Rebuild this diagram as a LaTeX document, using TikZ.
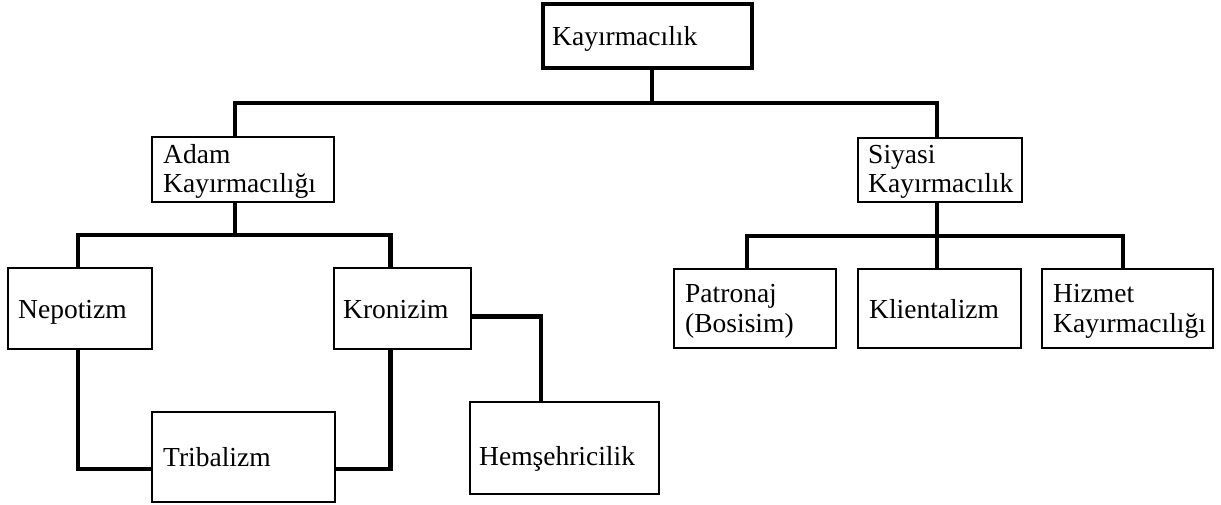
\documentclass[tikz,border=0pt]{standalone}
\usepackage{fontspec}
\setmainfont{Liberation Serif}
\begin{document}
\begin{tikzpicture}[x=1pt,y=-1pt,
  box/.style={draw, rectangle, inner sep=0pt, line width=1.4pt},
  midbox/.style={box, line width=2.6pt},
  topbox/.style={box, line width=3.4pt},
  conn/.style={line width=4.5pt},
  lbl/.style={anchor=base west, inner sep=0pt, font=\fontsize{27.5}{30}\selectfont}]
\useasboundingbox (0,0) rectangle (1221,504);

% boxes
\node[topbox, minimum width=209pt, minimum height=64pt] (top) at (647.5,36) {};
\node[midbox, minimum width=182pt, minimum height=65pt] (adam) at (243,169.5) {};
\node[midbox, minimum width=164pt, minimum height=64pt] (siy) at (940,170) {};
\node[box, minimum width=144pt, minimum height=81pt] (nep) at (80,308.5) {};
\node[box, minimum width=137pt, minimum height=81pt] (kro) at (402.5,308.5) {};
\node[box, minimum width=183pt, minimum height=90pt] (tri) at (243.5,457) {};
\node[box, minimum width=189pt, minimum height=92pt] (hem) at (564.5,448) {};
\node[box, minimum width=162pt, minimum height=79pt] (pat) at (755,308.5) {};
\node[box, minimum width=163pt, minimum height=79pt] (kli) at (939.5,308.5) {};
\node[box, minimum width=171pt, minimum height=79pt] (hiz) at (1127.5,308.5) {};

% labels
\node[lbl] (topT) at (552,45) {Kayırmacılık};
\node[lbl] (adamT1) at (163,163) {Adam};
\node[lbl] (adamT2) at (163,192) {Kayırmacılığı};
\node[lbl] (siyT1) at (868,163) {Siyasi};
\node[lbl] (siyT2) at (868,192) {Kayırmacılık};
\node[lbl] (nepT) at (18,318) {Nepotizm};
\node[lbl] (kroT) at (343,318) {Kronizim};
\node[lbl] (triT) at (163,466) {Tribalizm};
\node[lbl] (hemT) at (479,465) {Hemşehricilik};
\node[lbl] (patT1) at (685,302) {Patronaj};
\node[lbl] (patT2) at (685,332) {(Bosisim)};
\node[lbl] (kliT) at (869,318) {Klientalizm};
\node[lbl] (hizT1) at (1053,302) {Hizmet};
\node[lbl] (hizT2) at (1053,332) {Kayırmacılığı};

% stem points and bus levels
\coordinate (bus1) at (0,103);
\coordinate (bus2) at (0,235);
\coordinate (bus3) at (0,236);
\coordinate (tS) at ([xshift=4.5pt]top.south);
\coordinate (aN) at ([xshift=-8pt]adam.north);
\coordinate (aS) at ([xshift=-8pt]adam.south);
\coordinate (sN) at ([xshift=-3pt]siy.north);
\coordinate (sS) at ([xshift=-3pt]siy.south);
\coordinate (nN) at ([xshift=-2pt]nep.north);
\coordinate (nS) at ([xshift=-2pt]nep.south);
\coordinate (kN) at ([xshift=-12pt]kro.north);
\coordinate (kS) at ([xshift=-12pt]kro.south);
\coordinate (kE) at ([yshift=-8pt]kro.east);
\coordinate (tW) at ([yshift=-12pt]tri.west);
\coordinate (tE) at ([yshift=-12pt]tri.east);
\coordinate (hN) at ([xshift=-23.5pt]hem.north);
\coordinate (pN) at ([xshift=-8pt]pat.north);
\coordinate (cN) at ([xshift=-2.5pt]kli.north);
\coordinate (zN) at ([xshift=-4.5pt]hiz.north);

% connectors
\draw[conn] (tS) -- (tS |- bus1);
\draw[conn] (aN) |- (sN |- bus1) -- (sN);
\draw[conn] (aS) -- (aS |- bus2);
\draw[conn] (nN) |- (kN |- bus2) -- (kN);
\draw[conn] (nS) |- (tW);
\draw[conn] (kS) |- (tE);
\draw[conn] (kE) -| (hN);
\draw[conn] (sS) -- (sS |- bus3);
\draw[conn] (pN) |- (zN |- bus3) -- (zN);
\draw[conn] (cN) -- (cN |- bus3);
\end{tikzpicture}
\end{document}
